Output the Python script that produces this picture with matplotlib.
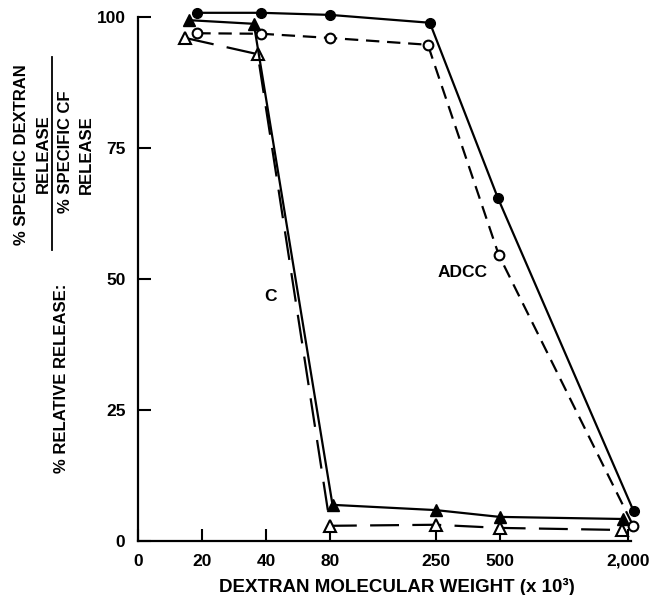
import matplotlib
matplotlib.use("Agg")
import matplotlib.pyplot as plt

plt.rcParams['font.family'] = ['Liberation Sans', 'DejaVu Sans']
plt.rcParams['font.weight'] = 'bold'

# x = dextran molecular weight (x 10^3), y = % relative release
adcc_dex_x = [19, 38, 80, 235, 490, 2130]
adcc_dex_y = [100.8, 100.8, 100.4, 98.9, 65.5, 5.7]
adcc_cf_x = [19, 38, 80, 230, 495, 2120]
adcc_cf_y = [96.9, 96.8, 96.0, 94.7, 54.6, 2.9]
c_dex_x = [17.3, 35, 82, 250, 500, 1890]
c_dex_y = [99.4, 98.7, 6.9, 5.9, 4.6, 4.2]
c_cf_x = [16.7, 36.5, 80, 250, 500, 1880]
c_cf_y = [96.0, 92.9, 2.9, 3.1, 2.5, 2.1]

xticks = [10, 20, 40, 80, 250, 500, 2000]
xticklabels = ["0", "20", "40", "80", "250", "500", "2,000"]
yticks = [0, 25, 50, 75, 100]

W, H = 654, 595
fig = plt.figure(figsize=(W / 100, H / 100), dpi=100)
ax = fig.add_axes([138 / W, 1 - 541 / H, (631 - 138) / W, (541 - 17) / H])

lw = 1.6
ax.plot(adcc_dex_x, adcc_dex_y, color='black', lw=lw, marker='o', ms=7,
        mfc='black', clip_on=False, zorder=4)
ax.plot(adcc_cf_x, adcc_cf_y, color='black', lw=lw, ls=(0, (6, 3.5)), marker='o',
        ms=7, mfc='white', mew=1.5, clip_on=False, zorder=3)
ax.plot(c_dex_x, c_dex_y, color='black', lw=lw, marker='^', ms=8,
        mfc='black', clip_on=False, zorder=4)
ax.plot(c_cf_x, c_cf_y, color='black', lw=lw, ls=(0, (13, 6)), marker='^', ms=8,
        mfc='white', mew=1.5, clip_on=False, zorder=3)

ax.set_xscale('log')
ax.set_xlim(10, 2070)
ax.set_ylim(0, 100)
ax.minorticks_off()
ax.set_xticks(xticks)
ax.set_xticklabels(xticklabels)
ax.set_yticks(yticks)
ax.tick_params(direction='in', length=9, width=1.5, labelsize=12.5, pad=9)
ax.spines['top'].set_visible(False)
ax.spines['right'].set_visible(False)
ax.spines['left'].set_linewidth(1.6)
ax.spines['bottom'].set_linewidth(1.6)

ax.set_xlabel("DEXTRAN MOLECULAR WEIGHT (x 10\u00b3)", fontsize=13.5,
              fontweight='bold')
ax.xaxis.set_label_coords((397 - 138) / 493, (541 - 578) / 524)

ax.text(42, 46.6, "C", fontsize=12.5, ha='center', va='center')
ax.text(333, 51.3, "ADCC", fontsize=12.5, ha='center', va='center')

def px(x, y):
    return x / W, 1 - y / H

fs = 12
fig.text(*px(62, 378), "% RELATIVE RELEASE:", rotation=90, fontsize=fs,
         ha='center', va='center')
fig.text(*px(22, 155), "% SPECIFIC DEXTRAN", rotation=90, fontsize=fs,
         ha='center', va='center')
fig.text(*px(43, 154), "RELEASE", rotation=90, fontsize=fs,
         ha='center', va='center')
fig.text(*px(65, 152), "% SPECIFIC CF", rotation=90, fontsize=fs,
         ha='center', va='center')
fig.text(*px(86, 155), "RELEASE", rotation=90, fontsize=fs,
         ha='center', va='center')
fig.add_artist(plt.Line2D([52 / W, 52 / W], [1 - 250 / H, 1 - 57 / H],
                          color='black', lw=1.3))

fig.savefig("out.png", dpi=100)
